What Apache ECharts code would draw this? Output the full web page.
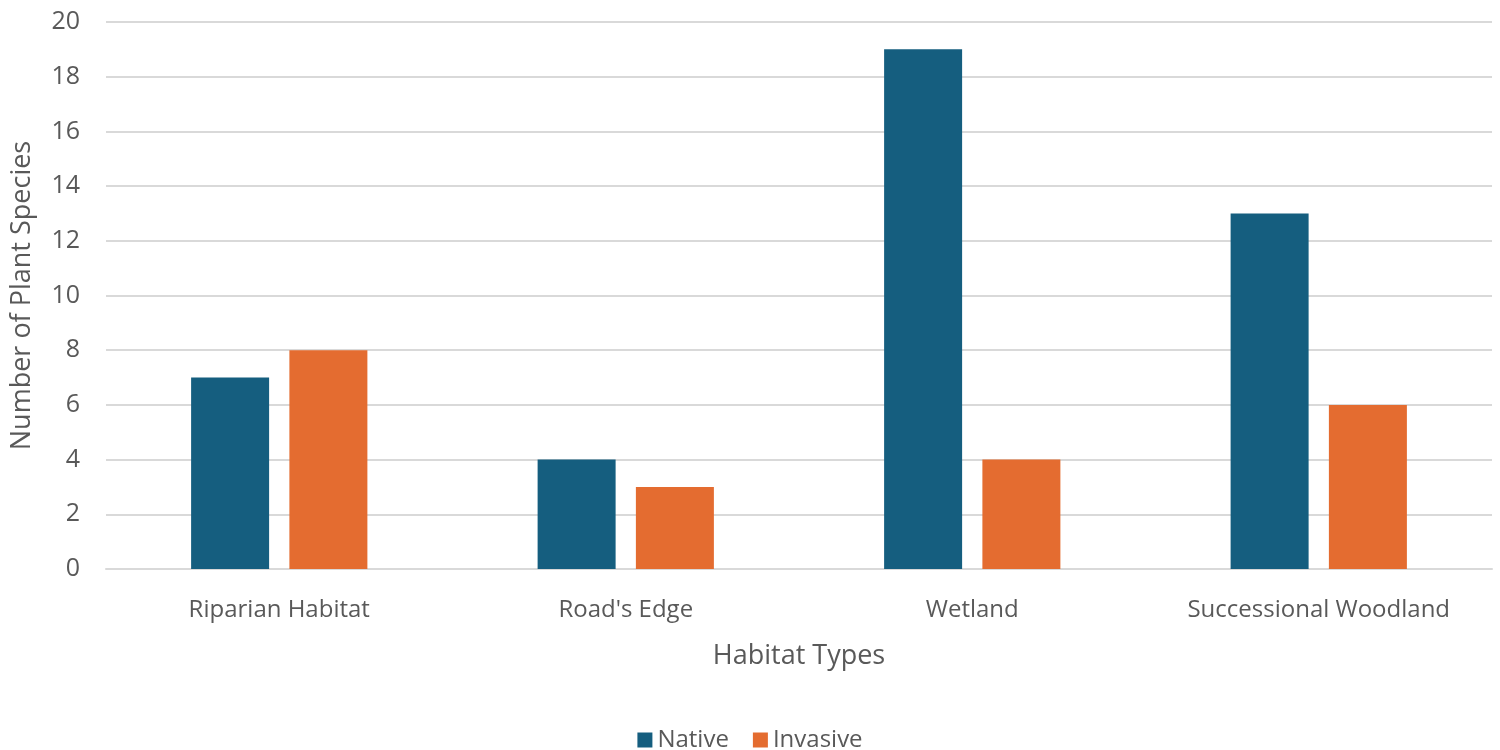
<!DOCTYPE html>
<html>
<head>
<meta charset="utf-8">
<script src="https://cdn.jsdelivr.net/npm/echarts@6/dist/echarts.min.js"></script>
<style>
html,body{margin:0;padding:0;background:#fff;}
#mainarea{width:1500px;height:750px;}
</style>
</head>
<body>
<div id="mainarea"></div>
<script>
var habitats=['Riparian Habitat',"Road's Edge",'Wetland','Successional Woodland'];
var nativeCounts=[7,4,19,13];
var invasiveCounts=[8,3,4,6];

var myChart=echarts.init(document.getElementById('mainarea'));
var textColor='#595959';
var font='"Open Sans", Lato, sans-serif';

var option={
	backgroundColor:'#fff',
	animation:false,
	textStyle:{fontFamily:font},
	grid:{
		left:106,
		right:8,
		top:22,
		bottom:181,
		outerBoundsMode:'none'
	},
	legend:{
		bottom:-7,
		left:'center',
		itemWidth:15,
		itemHeight:15,
		itemGap:24,
		icon:'rect',
		textStyle:{color:textColor,fontSize:24,fontFamily:font},
		data:['Native','Invasive']
	},
	xAxis:{
		type:'category',
		data:habitats,
		name:'Habitat Types',
		nameLocation:'middle',
		nameGap:74,
		nameTextStyle:{color:textColor,fontSize:27,fontFamily:font},
		axisLine:{lineStyle:{color:'#d9d9d9',width:2}},
		axisTick:{show:false},
		axisLabel:{color:textColor,fontSize:24,margin:29,interval:0}
	},
	yAxis:{
		type:'value',
		min:0,
		max:20,
		interval:2,
		name:'Number of Plant Species',
		nameLocation:'middle',
		nameGap:70,
		nameTextStyle:{color:textColor,fontSize:27,fontFamily:font},
		axisLine:{show:false},
		axisTick:{show:false},
		axisLabel:{color:textColor,fontSize:25,margin:26},
		splitLine:{lineStyle:{color:'#d9d9d9',width:2}}
	},
	series:[{
		name:'Native',
		type:'bar',
		data:nativeCounts,
		barWidth:78,
		barGap:'26%',
		itemStyle:{color:'#155e7f'}
	},{
		name:'Invasive',
		type:'bar',
		data:invasiveCounts,
		barWidth:78,
		itemStyle:{color:'#e46c30'}
	}]
};

myChart.setOption(option);
</script>
</body>
</html>
